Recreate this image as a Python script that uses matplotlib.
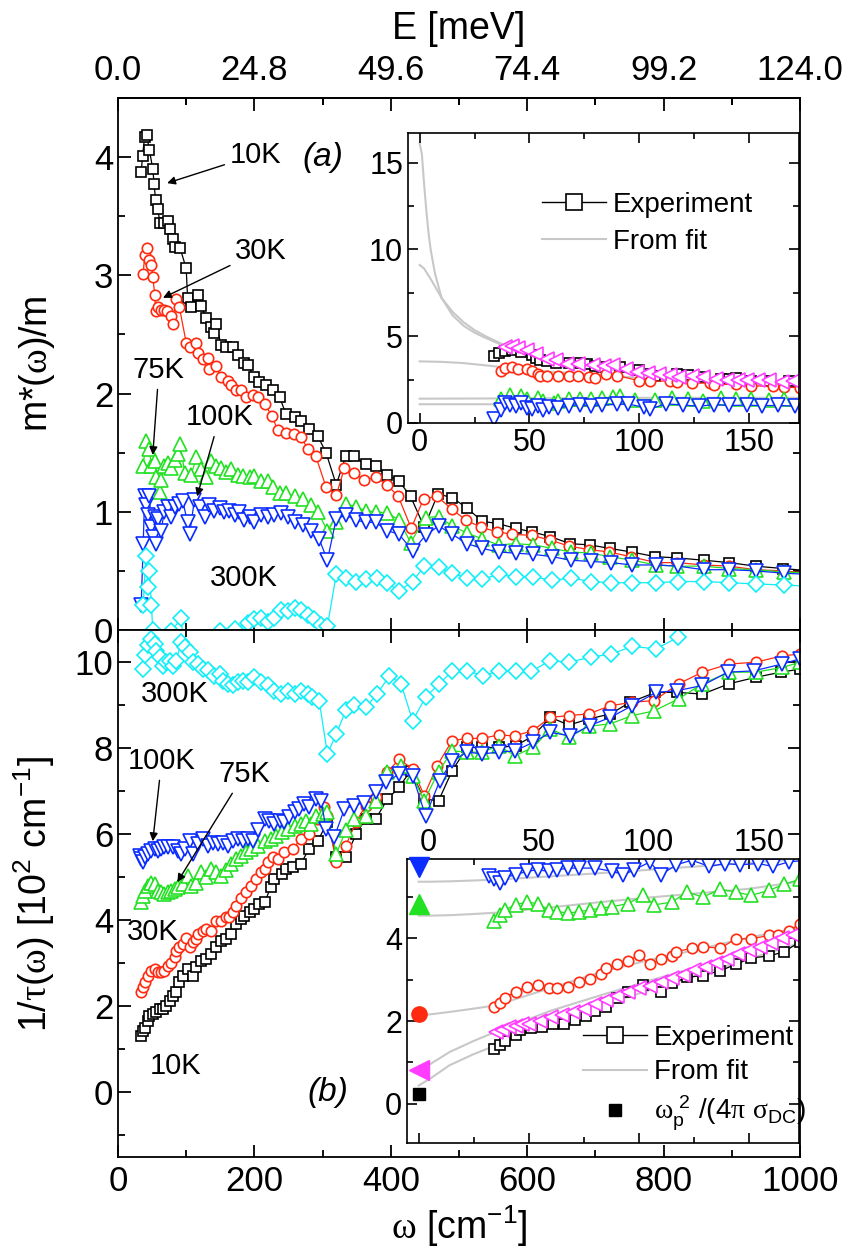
import numpy as np
import matplotlib
matplotlib.use("Agg")
import matplotlib.pyplot as plt
from matplotlib.lines import Line2D
from matplotlib.transforms import ScaledTranslation
from matplotlib.ticker import MultipleLocator, FixedLocator, FormatStrFormatter

plt.rcParams['font.family'] = ['Liberation Sans', 'DejaVu Sans']
plt.rcParams['mathtext.fontset'] = 'custom'
plt.rcParams['mathtext.rm'] = 'Liberation Serif'
plt.rcParams['mathtext.default'] = 'regular'

# ---- m*(w)/m, panel (a) ----
w10_m = [34, 36, 39, 42, 46, 51, 53, 55, 58, 62, 68, 73, 76, 80, 83, 91, 100, 102, 107, 117, 122, 129, 137, 141, 144,
         151, 159, 168, 176, 185, 190, 200, 207, 217, 227, 237, 246, 259, 268, 280, 293, 305, 320, 334, 346, 363, 378,
         395, 412, 429, 449, 469, 490, 512, 534, 557, 583, 607, 634, 663, 692, 721, 753, 788, 820, 859, 896, 935, 975, 1015]
m10 = [3.87, 4.01, 4.17, 4.19, 4.06, 3.90, 3.77, 3.64, 3.56, 3.44, 3.44, 3.46, 3.39, 3.31, 3.24, 3.23, 3.06, 2.81, 2.73,
       2.83, 2.74, 2.64, 2.56, 2.51, 2.59, 2.41, 2.39, 2.39, 2.33, 2.26, 2.24, 2.14, 2.10, 2.07, 2.03, 1.97, 1.83, 1.80,
       1.77, 1.70, 1.64, 1.50, 1.23, 1.47, 1.47, 1.40, 1.39, 1.31, 1.26, 1.13, 0.87, 1.15, 1.12, 1.03, 0.92, 0.90, 0.86,
       0.83, 0.79, 0.73, 0.72, 0.69, 0.66, 0.62, 0.61, 0.59, 0.57, 0.54, 0.52, 0.50]

w30_m = [37, 39, 42, 45, 49, 51, 54, 55, 58, 63, 68, 72, 77, 80, 85, 90, 100, 105, 114, 117, 124, 132, 134, 144, 151,
         161, 166, 173, 180, 188, 198, 205, 215, 226, 234, 246, 258, 268, 279, 290, 305, 320, 332, 346, 361, 378, 394,
         411, 430, 448, 468, 490, 510, 532, 556, 578, 607, 634, 661, 691, 720, 752, 789, 820, 859, 896, 935, 975, 1015]
m30 = [3.01, 3.17, 3.23, 3.13, 3.09, 2.99, 2.83, 2.70, 2.73, 2.71, 2.71, 2.70, 2.66, 2.59, 2.80, 2.73, 2.43, 2.39, 2.43,
       2.34, 2.29, 2.30, 2.21, 2.23, 2.14, 2.11, 2.07, 2.03, 2.03, 1.97, 1.99, 1.97, 1.91, 1.81, 1.69, 1.67, 1.66, 1.63,
       1.53, 1.47, 1.21, 1.14, 1.37, 1.33, 1.27, 1.29, 1.23, 1.13, 0.86, 1.11, 1.13, 1.02, 0.93, 0.87, 0.83, 0.81, 0.80,
       0.76, 0.71, 0.68, 0.66, 0.62, 0.57, 0.57, 0.55, 0.54, 0.51, 0.50, 0.48]

w75_m = [37, 41, 46, 49, 54, 56, 61, 63, 68, 73, 78, 83, 88, 91, 98, 107, 115, 122, 129, 137, 144, 151, 159, 166, 176,
         183, 193, 200, 210, 220, 227, 237, 246, 259, 271, 283, 293, 307, 320, 334, 349, 363, 378, 395, 412, 429, 451,
         470, 490, 512, 534, 558, 583, 609, 637, 664, 693, 722, 754, 789, 820, 859, 896, 935, 977, 1015]
m75 = [1.39, 1.60, 1.53, 1.39, 1.43, 1.29, 1.17, 1.27, 1.39, 1.41, 1.37, 1.44, 1.49, 1.57, 1.33, 1.31, 1.46, 1.36, 1.29,
       1.43, 1.39, 1.37, 1.34, 1.36, 1.31, 1.30, 1.29, 1.30, 1.26, 1.26, 1.21, 1.16, 1.16, 1.13, 1.11, 1.06, 1.00, 0.84,
       0.91, 1.07, 1.04, 1.01, 1.00, 0.99, 0.93, 0.74, 0.95, 0.96, 0.88, 0.82, 0.77, 0.72, 0.73, 0.72, 0.69, 0.66, 0.65,
       0.62, 0.59, 0.55, 0.54, 0.54, 0.52, 0.51, 0.49, 0.48]

w100_m = [34, 37, 39, 41, 44, 46, 49, 51, 54, 56, 59, 63, 68, 73, 78, 83, 90, 95, 102, 105, 112, 120, 127, 134, 141,
          149, 156, 163, 171, 178, 185, 193, 200, 210, 220, 229, 239, 249, 259, 271, 283, 295, 307, 320, 334, 349, 363,
          378, 395, 412, 432, 451, 470, 490, 512, 534, 558, 583, 609, 637, 664, 693, 723, 754, 789, 821, 859, 896, 935,
          977, 1015]
m100 = [0.21, 0.73, 1.13, 1.06, 0.97, 1.13, 0.87, 0.79, 0.96, 0.73, 0.94, 0.84, 1.00, 1.04, 0.96, 1.04, 1.07, 1.09,
        0.91, 0.81, 1.10, 1.04, 0.96, 1.06, 1.01, 1.03, 1.00, 1.01, 0.97, 1.00, 0.93, 0.96, 0.91, 0.97, 0.96, 0.97, 0.99,
        0.96, 0.91, 0.89, 0.84, 0.77, 0.59, 0.94, 0.97, 0.93, 0.91, 0.91, 0.84, 0.81, 0.67, 0.80, 0.88, 0.81, 0.73, 0.69,
        0.66, 0.65, 0.64, 0.62, 0.59, 0.58, 0.57, 0.55, 0.55, 0.54, 0.51, 0.51, 0.50, 0.48, 0.47]

w300_m = [37, 41, 44, 46, 49, 51, 54, 62, 70, 78, 93, 95, 105, 120, 135, 149, 171, 190, 200, 210, 220, 229, 239, 249,
          259, 268, 278, 288, 298, 307, 320, 334, 349, 363, 380, 395, 412, 432, 449, 470, 490, 512, 534, 558, 583, 609,
          637, 664, 693, 723, 754, 789, 821, 859, 896, 935, 977, 1015]
m300 = [0.21, 0.63, 0.36, 0.50, 0.21, 0.00, -0.10, -0.20, -0.12, -0.01, 0.10, -0.09, -0.20, -0.25, -0.10, -0.01, 0.01,
        0.06, 0.09, 0.10, 0.07, 0.10, 0.17, 0.16, 0.19, 0.17, 0.13, 0.09, 0.04, 0.03, 0.47, 0.44, 0.41, 0.43, 0.44, 0.40,
        0.33, 0.41, 0.54, 0.53, 0.48, 0.44, 0.43, 0.47, 0.45, 0.45, 0.42, 0.44, 0.41, 0.40, 0.40, 0.40, 0.41, 0.41, 0.40,
        0.39, 0.38, 0.37]

# ---- 1/tau(w), panel (b), units of 10^2 cm^-1 ----
w10_t = [34, 37, 39, 44, 46, 51, 56, 61, 66, 71, 76, 80, 85, 90, 95, 102, 110, 115, 122, 129, 137, 144, 151, 159, 166,
         173, 180, 185, 193, 200, 207, 215, 224, 229, 241, 246, 256, 268, 280, 293, 307, 320, 334, 349, 363, 378, 395,
         412, 429, 449, 470, 490, 512, 534, 558, 583, 609, 634, 661, 690, 722, 751, 788, 820, 857, 896, 935, 972, 1000]
t10 = [1.32, 1.43, 1.51, 1.67, 1.78, 1.82, 1.86, 1.94, 1.94, 2.02, 2.13, 2.25, 2.33, 2.56, 2.71, 2.87, 2.71, 2.91, 3.06,
       3.10, 3.22, 3.37, 3.53, 3.57, 3.68, 3.91, 4.03, 4.11, 4.19, 4.26, 4.38, 4.42, 4.77, 4.96, 5.08, 5.19, 5.23, 5.31,
       5.66, 5.85, 6.28, 5.47, 5.47, 6.00, 6.36, 6.36, 6.82, 7.09, 7.48, 6.82, 6.78, 7.48, 8.02, 8.02, 8.02, 8.06, 8.29,
       8.72, 8.54, 8.68, 8.80, 9.07, 9.30, 9.30, 9.26, 9.50, 9.65, 9.77, 9.84]

w30_t = [34, 37, 39, 44, 49, 54, 59, 63, 68, 73, 78, 83, 85, 90, 95, 100, 105, 110, 115, 117, 124, 129, 137, 144, 151,
         159, 163, 168, 173, 180, 188, 195, 202, 210, 215, 220, 227, 234, 244, 256, 268, 280, 293, 302, 307, 320, 334,
         349, 363, 378, 395, 412, 432, 449, 468, 490, 512, 534, 558, 582, 608, 634, 661, 690, 722, 754, 786, 822, 857,
         896, 935, 974, 1000]
t30 = [2.33, 2.44, 2.56, 2.71, 2.83, 2.87, 2.79, 2.79, 2.83, 2.95, 3.02, 3.14, 3.29, 3.37, 3.45, 3.60, 3.37, 3.49, 3.57,
       3.68, 3.76, 3.80, 3.76, 3.99, 3.99, 4.07, 4.07, 4.19, 4.34, 4.53, 4.65, 4.81, 4.96, 5.12, 5.19, 5.35, 5.47, 5.43,
       5.58, 5.66, 5.89, 6.01, 6.36, 6.63, 6.43, 5.35, 5.74, 6.28, 6.67, 6.86, 7.44, 7.75, 7.52, 6.90, 7.60, 8.18, 8.23,
       8.23, 8.31, 8.29, 8.41, 8.72, 8.76, 8.80, 8.99, 9.07, 9.11, 9.50, 9.77, 9.96, 10.00, 10.15, 10.19]

w75_t = [34, 37, 39, 44, 49, 54, 59, 63, 68, 73, 78, 83, 88, 95, 102, 107, 115, 122, 129, 137, 144, 151, 159, 166, 173,
         180, 188, 195, 205, 215, 224, 232, 241, 249, 259, 268, 276, 283, 290, 300, 307, 320, 334, 346, 363, 378, 395,
         415, 432, 449, 470, 490, 512, 534, 558, 582, 609, 634, 661, 690, 722, 754, 786, 822, 857, 896, 935, 974, 1000]
t75 = [4.42, 4.57, 4.69, 4.81, 4.88, 4.84, 4.69, 4.65, 4.61, 4.65, 4.69, 4.73, 4.77, 4.84, 5.04, 4.81, 4.88, 5.12, 5.00,
       5.19, 5.12, 5.04, 5.16, 5.31, 5.43, 5.50, 5.58, 5.66, 5.74, 5.85, 5.89, 5.97, 6.05, 6.12, 6.20, 6.24, 6.32, 6.24,
       6.43, 6.47, 6.51, 5.54, 6.09, 6.36, 6.43, 6.78, 7.44, 7.60, 7.36, 6.78, 7.46, 7.94, 7.91, 7.91, 8.06, 7.83, 8.02,
       8.45, 8.26, 8.51, 8.57, 8.76, 8.87, 9.15, 9.50, 9.77, 9.77, 9.88, 10.00]

w100_t = [32, 34, 37, 39, 44, 49, 54, 59, 63, 68, 73, 80, 88, 93, 98, 105, 110, 117, 124, 132, 139, 146, 154, 161, 168,
          176, 183, 190, 198, 205, 215, 222, 229, 237, 244, 251, 259, 266, 273, 280, 290, 298, 305, 317, 332, 346, 361,
          378, 393, 412, 432, 451, 472, 490, 512, 534, 558, 582, 609, 634, 663, 692, 722, 754, 789, 820, 857, 894, 932,
          974, 1000]
t100 = [5.50, 5.43, 5.35, 5.47, 5.54, 5.62, 5.66, 5.62, 5.66, 5.70, 5.70, 5.70, 5.62, 5.54, 5.66, 5.85, 5.54, 5.78, 5.89,
        5.74, 5.81, 5.78, 5.81, 5.74, 5.85, 5.89, 5.85, 5.89, 5.85, 6.09, 6.36, 6.32, 6.24, 6.32, 6.28, 6.40, 6.51, 6.59,
        6.71, 6.63, 6.82, 6.78, 6.12, 5.93, 6.59, 6.67, 6.74, 6.98, 7.21, 7.40, 7.36, 6.43, 7.25, 7.71, 7.91, 7.87, 7.91,
        7.94, 8.14, 8.37, 8.29, 8.53, 8.72, 8.99, 9.30, 9.34, 9.46, 9.77, 9.80, 9.96, 10.08]

w300_t = [37, 39, 44, 49, 54, 56, 61, 66, 71, 76, 80, 85, 93, 98, 105, 110, 117, 124, 132, 141, 149, 154, 161, 168, 176,
          183, 190, 200, 210, 220, 229, 239, 249, 259, 268, 278, 285, 295, 307, 320, 334, 346, 363, 380, 398, 415, 432,
          451, 471, 490, 512, 535, 558, 584, 606, 634, 661, 693, 723, 754, 789, 821]
t300 = [9.84, 10.16, 10.39, 10.54, 10.43, 10.27, 10.12, 9.92, 10.00, 10.04, 9.92, 10.04, 10.47, 10.35, 10.23, 10.00,
        9.96, 9.84, 9.81, 9.69, 9.73, 9.57, 9.50, 9.46, 9.53, 9.57, 9.53, 9.65, 9.53, 9.46, 9.34, 9.26, 9.34, 9.26, 9.34,
        9.26, 9.19, 9.11, 7.87, 8.33, 8.88, 9.00, 8.95, 9.26, 9.69, 9.50, 8.64, 9.19, 9.50, 9.79, 9.80, 9.69, 9.79, 9.79,
        9.79, 10.04, 10.00, 10.12, 10.19, 10.37, 10.31, 10.58]

# ---- extra temperature shown only in the insets ----
wmag_m = [39, 42, 45, 49, 53, 58, 62, 67, 72, 79, 84, 88, 94, 99, 104, 109, 114, 118, 124, 129, 135, 140, 145, 149, 154,
          159, 165, 170]
mmag = [4.38, 4.42, 4.33, 4.19, 3.95, 3.71, 3.60, 3.42, 3.40, 3.33, 3.30, 3.33, 3.10, 2.94, 2.90, 2.85, 2.75, 2.65, 2.68,
        2.65, 2.55, 2.50, 2.50, 2.46, 2.45, 2.46, 2.38, 2.40]
wmag_t = [35, 38, 41, 44, 47, 50, 55, 60, 65, 70, 75, 80, 85, 90, 95, 100, 105, 110, 115, 120, 125, 130, 135, 140, 145,
          150, 155, 160, 165, 170]
tmag = [1.74, 1.78, 1.85, 1.88, 1.92, 1.94, 2.00, 2.10, 2.15, 2.22, 2.30, 2.42, 2.50, 2.60, 2.70, 2.79, 2.85, 2.95, 3.05,
        3.12, 3.23, 3.30, 3.40, 3.50, 3.62, 3.72, 3.80, 3.90, 4.00, 4.08]

# ---- fit curves (insets) ----
wfit_a = [0, 1, 2, 3, 4, 5, 7, 10, 15, 20, 25, 30, 40, 50, 60, 80, 100, 125, 150, 175]
mfit_a = [16.1, 15.5, 13.8, 12.3, 11.0, 10.0, 8.6, 7.2, 6.2, 5.6, 5.2, 4.9, 4.35, 4.0, 3.7, 3.2, 2.85, 2.5, 2.25, 2.05]
wfit_b = [0, 2, 5, 10, 15, 20, 25, 30, 40, 50, 60, 80, 100, 125, 150, 175]
mfit_b = [9.1, 8.9, 8.3, 7.2, 6.4, 5.8, 5.35, 5.0, 4.4, 4.0, 3.75, 3.3, 2.95, 2.6, 2.35, 2.15]
wfit_c = [0, 10, 20, 30, 40, 60, 80, 100, 125, 150, 175]
mfit_c = [3.55, 3.52, 3.45, 3.32, 3.18, 2.95, 2.78, 2.6, 2.42, 2.25, 2.1]
wfit_flat = [0, 50, 100, 175]
mfit_75 = [1.40, 1.42, 1.45, 1.45]
mfit_100 = [1.08, 1.08, 1.09, 1.09]

wfit_t = [0, 5, 14, 25, 35, 60, 83, 105, 129, 150, 175]
tfit_100 = [5.37, 5.37, 5.38, 5.40, 5.42, 5.50, 5.58, 5.66, 5.75, 5.83, 5.92]
tfit_75 = [4.55, 4.55, 4.56, 4.59, 4.62, 4.75, 4.88, 4.99, 5.10, 5.20, 5.39]
tfit_30 = [2.14, 2.16, 2.22, 2.30, 2.38, 2.80, 3.19, 3.48, 3.76, 4.02, 4.28]
tfit_mag = [0.85, 0.95, 1.25, 1.52, 1.74, 2.25, 2.63, 2.98, 3.35, 3.75, 4.20]
tfit_10 = [0.44, 0.60, 0.93, 1.20, 1.41, 1.95, 2.38, 2.75, 3.15, 3.50, 3.92]

# w_p^2/(4 pi sigma_DC) values, plotted at w = 0
dc_vals = {'100K': 5.72, '75K': 4.82, '30K': 2.18, 'mag': 0.81, '10K': 0.24}

C10, C30, C75, C100, C300, CMAG = 'black', '#ff2a10', '#22e022', '#0a2cff', '#10eef8', '#ff3cff'
GRAY = '#c8c8c8'

styles = [(C10, 's', 7.0), (C30, 'o', 7.5), (C75, '^', 9.5), (C100, 'v', 9.5), (C300, 'D', 8.0)]


def series(ax, w, y, c, mk, ms, lw=0.9):
    ax.plot(w, y, color=c, lw=lw, marker=mk, ms=ms, mfc='white', mec=c, mew=1.2)


def style_axes(ax, lw=1.3):
    for s in ax.spines.values():
        s.set_linewidth(lw)
    ax.tick_params(which='both', direction='in', top=True, right=True, width=lw)
    ax.tick_params(which='major', length=9)
    ax.tick_params(which='minor', length=5)


fig = plt.figure(figsize=(8.43, 12.52), dpi=100)
W, H = 843.0, 1252.0
ax1 = fig.add_axes([118 / W, 1 - 630 / H, 682 / W, 532 / H])
ax2 = fig.add_axes([118 / W, 1 - 1157 / H, 682 / W, 527 / H])

# panel (a)
for (w, y), (c, mk, ms) in zip([(w10_m, m10), (w30_m, m30), (w75_m, m75), (w100_m, m100), (w300_m, m300)], styles):
    series(ax1, w, y, c, mk, ms)
ax1.set_xlim(0, 1000)
ax1.set_ylim(0, 4.5)
ax1.xaxis.set_major_locator(MultipleLocator(200))
ax1.xaxis.set_minor_locator(MultipleLocator(100))
ax1.yaxis.set_major_locator(MultipleLocator(1))
ax1.yaxis.set_minor_locator(MultipleLocator(0.5))
style_axes(ax1)
ax1.tick_params(top=False, labelbottom=False, labelsize=25)
ax1.set_ylabel(r'm*($\mathrm{\omega}$)/m', fontsize=27)
ax1.yaxis.set_label_coords(-0.09, 0.5)

sec = ax1.secondary_xaxis('top', functions=(lambda w: w * 0.124, lambda e: e / 0.124))
sec.xaxis.set_major_locator(FixedLocator([0, 24.8, 49.6, 74.4, 99.2, 124.0]))
sec.xaxis.set_minor_locator(FixedLocator([12.4, 37.2, 62.0, 86.8, 111.6]))
sec.xaxis.set_major_formatter(FormatStrFormatter('%.1f'))
sec.tick_params(which='both', direction='in', width=1.3, labelsize=25, pad=8)
sec.tick_params(which='major', length=9)
sec.tick_params(which='minor', length=5)
sec.spines['top'].set_linewidth(1.3)
sec.set_xlabel('E [meV]', fontsize=27, labelpad=11)

arw = dict(arrowstyle='-|>', color='black', lw=1.0, mutation_scale=12, shrinkA=2, shrinkB=0)
fs = 21
ax1.annotate('10K', xy=(72, 3.78), xytext=(164, 4.02), ha='left', va='center', fontsize=fs, arrowprops=arw)
ax1.annotate('30K', xy=(66, 2.81), xytext=(172, 3.21), ha='left', va='center', fontsize=fs, arrowprops=arw)
ax1.annotate('75K', xy=(51, 1.48), xytext=(60, 2.2), ha='center', va='center', fontsize=fs, arrowprops=arw)
ax1.annotate('100K', xy=(116, 1.13), xytext=(149, 1.80), ha='center', va='center', fontsize=fs, arrowprops=arw)
ax1.text(184, 0.44, '300K', ha='center', va='center', fontsize=fs)
ax1.text(301, 4.0, '(a)', ha='center', va='center', fontsize=24, style='italic')

# panel (b)
for (w, y), (c, mk, ms) in zip([(w10_t, t10), (w30_t, t30), (w75_t, t75), (w100_t, t100), (w300_t, t300)], styles):
    series(ax2, w, y, c, mk, ms)
ax2.set_xlim(0, 1000)
ax2.set_ylim(-1.5, 10.75)
ax2.xaxis.set_major_locator(MultipleLocator(200))
ax2.xaxis.set_minor_locator(MultipleLocator(100))
ax2.yaxis.set_major_locator(MultipleLocator(2))
ax2.yaxis.set_minor_locator(MultipleLocator(1))
style_axes(ax2)
ax2.tick_params(labelsize=25)
ax2.tick_params(axis='x', pad=6)
ax2.set_ylabel(r'1/$\mathrm{\tau}$($\mathrm{\omega}$) [10$^{2}$ cm$^{-1}$]', fontsize=27)
ax2.yaxis.set_label_coords(-0.09, 0.5)
ax2.set_xlabel(r'$\mathrm{\omega}$ [cm$^{-1}$]', fontsize=27, labelpad=4)

ax2.text(84, 9.26, '300K', ha='center', va='center', fontsize=fs)
ax2.annotate('100K', xy=(51, 5.84), xytext=(64, 7.71), ha='center', va='center', fontsize=fs, arrowprops=arw)
ax2.annotate('75K', xy=(87, 4.89), xytext=(185, 7.40), ha='center', va='center', fontsize=fs, arrowprops=arw)
ax2.text(51, 3.73, '30K', ha='center', va='center', fontsize=fs)
ax2.text(84, 0.61, '10K', ha='center', va='center', fontsize=fs)
ax2.text(308, 0.0, '(b)', ha='center', va='center', fontsize=24, style='italic')

# inset of panel (a): low-frequency part with fits
in1 = fig.add_axes([408 / W, 1 - 423 / H, 391 / W, 290 / H])
for wf, mf in [(wfit_a, mfit_a), (wfit_b, mfit_b), (wfit_c, mfit_c), (wfit_flat, mfit_75), (wfit_flat, mfit_100)]:
    in1.plot(wf, mf, color=GRAY, lw=1.5, zorder=1)
for (w, y), (c, mk, ms) in zip([(w10_m, m10), (w30_m, m30), (w75_m, m75), (w100_m, m100)], styles):
    w = np.array(w)
    keep = w <= 180
    series(in1, w[keep], np.array(y)[keep], c, mk, ms)
series(in1, wmag_m, mmag, CMAG, '<', 9.5)
in1.set_xlim(-5.3, 172.7)
in1.set_ylim(0, 16.7)
in1.xaxis.set_major_locator(MultipleLocator(50))
in1.xaxis.set_minor_locator(MultipleLocator(25))
in1.yaxis.set_major_locator(MultipleLocator(5))
in1.yaxis.set_minor_locator(MultipleLocator(2.5))
style_axes(in1, lw=1.2)
in1.tick_params(which='major', length=7, labelsize=22)
in1.tick_params(which='minor', length=4)
h_exp = Line2D([], [], color='black', lw=1.0, marker='s', ms=11, mfc='white', mec='black', mew=1.2)
h_fit = Line2D([], [], color=GRAY, lw=1.5)
in1.legend([h_exp, h_fit], ['Experiment', 'From fit'], loc='upper left', bbox_to_anchor=(0.343, 0.797),
           frameon=False, fontsize=20, handlelength=2.3, handletextpad=0.25, labelspacing=0.4,
           borderaxespad=0, borderpad=0)

# inset of panel (b)
in2 = fig.add_axes([407 / W, 1 - 1143 / H, 392 / W, 284 / H])
for tf in [tfit_100, tfit_75, tfit_30, tfit_mag, tfit_10]:
    in2.plot(wfit_t, tf, color=GRAY, lw=1.5, zorder=1)
for (w, y), (c, mk, ms) in zip([(w10_t, t10), (w30_t, t30), (w75_t, t75), (w100_t, t100)], styles):
    w = np.array(w)
    keep = w <= 180
    series(in2, w[keep], np.array(y)[keep], c, mk, ms)
series(in2, wmag_t, tmag, CMAG, '<', 9.5)
for key, c, mk, ms in [('100K', C100, 'v', 14), ('75K', C75, '^', 14), ('30K', C30, 'o', 11),
                       ('mag', CMAG, '<', 14), ('10K', C10, 's', 9)]:
    in2.plot([0], [dc_vals[key]], ls='none', marker=mk, ms=ms, color=c, mec=c, zorder=4, clip_on=False)
in2.set_xlim(-5.3, 172.7)
in2.set_ylim(-0.95, 5.92)
in2.xaxis.set_major_locator(MultipleLocator(50))
in2.xaxis.set_minor_locator(MultipleLocator(25))
in2.yaxis.set_major_locator(MultipleLocator(2))
in2.yaxis.set_minor_locator(MultipleLocator(1))
style_axes(in2, lw=1.2)
in2.tick_params(which='major', length=7, labelsize=22, labelbottom=False, labeltop=True)
in2.tick_params(axis='x', pad=1)
in2.tick_params(which='minor', length=4)
# the frequency labels of this inset sit a little right of their ticks
for lab in in2.xaxis.get_majorticklabels():
    lab.set_transform(lab.get_transform() + ScaledTranslation(7 / 72, 0, fig.dpi_scale_trans))
h_dc = Line2D([], [], ls='none', marker='s', ms=9, color='black')
in2.legend([h_exp, h_fit, h_dc],
           ['Experiment', 'From fit', r'$\mathrm{\omega}_{p}^{\ 2}$ /(4$\mathrm{\pi}$ $\mathrm{\sigma}_{DC}$)'],
           loc='upper left', bbox_to_anchor=(0.45, 0.415), frameon=False, fontsize=20, handlelength=2.3,
           handletextpad=0.25, labelspacing=0.3, borderaxespad=0, borderpad=0)

fig.savefig('out.png', dpi=100)
